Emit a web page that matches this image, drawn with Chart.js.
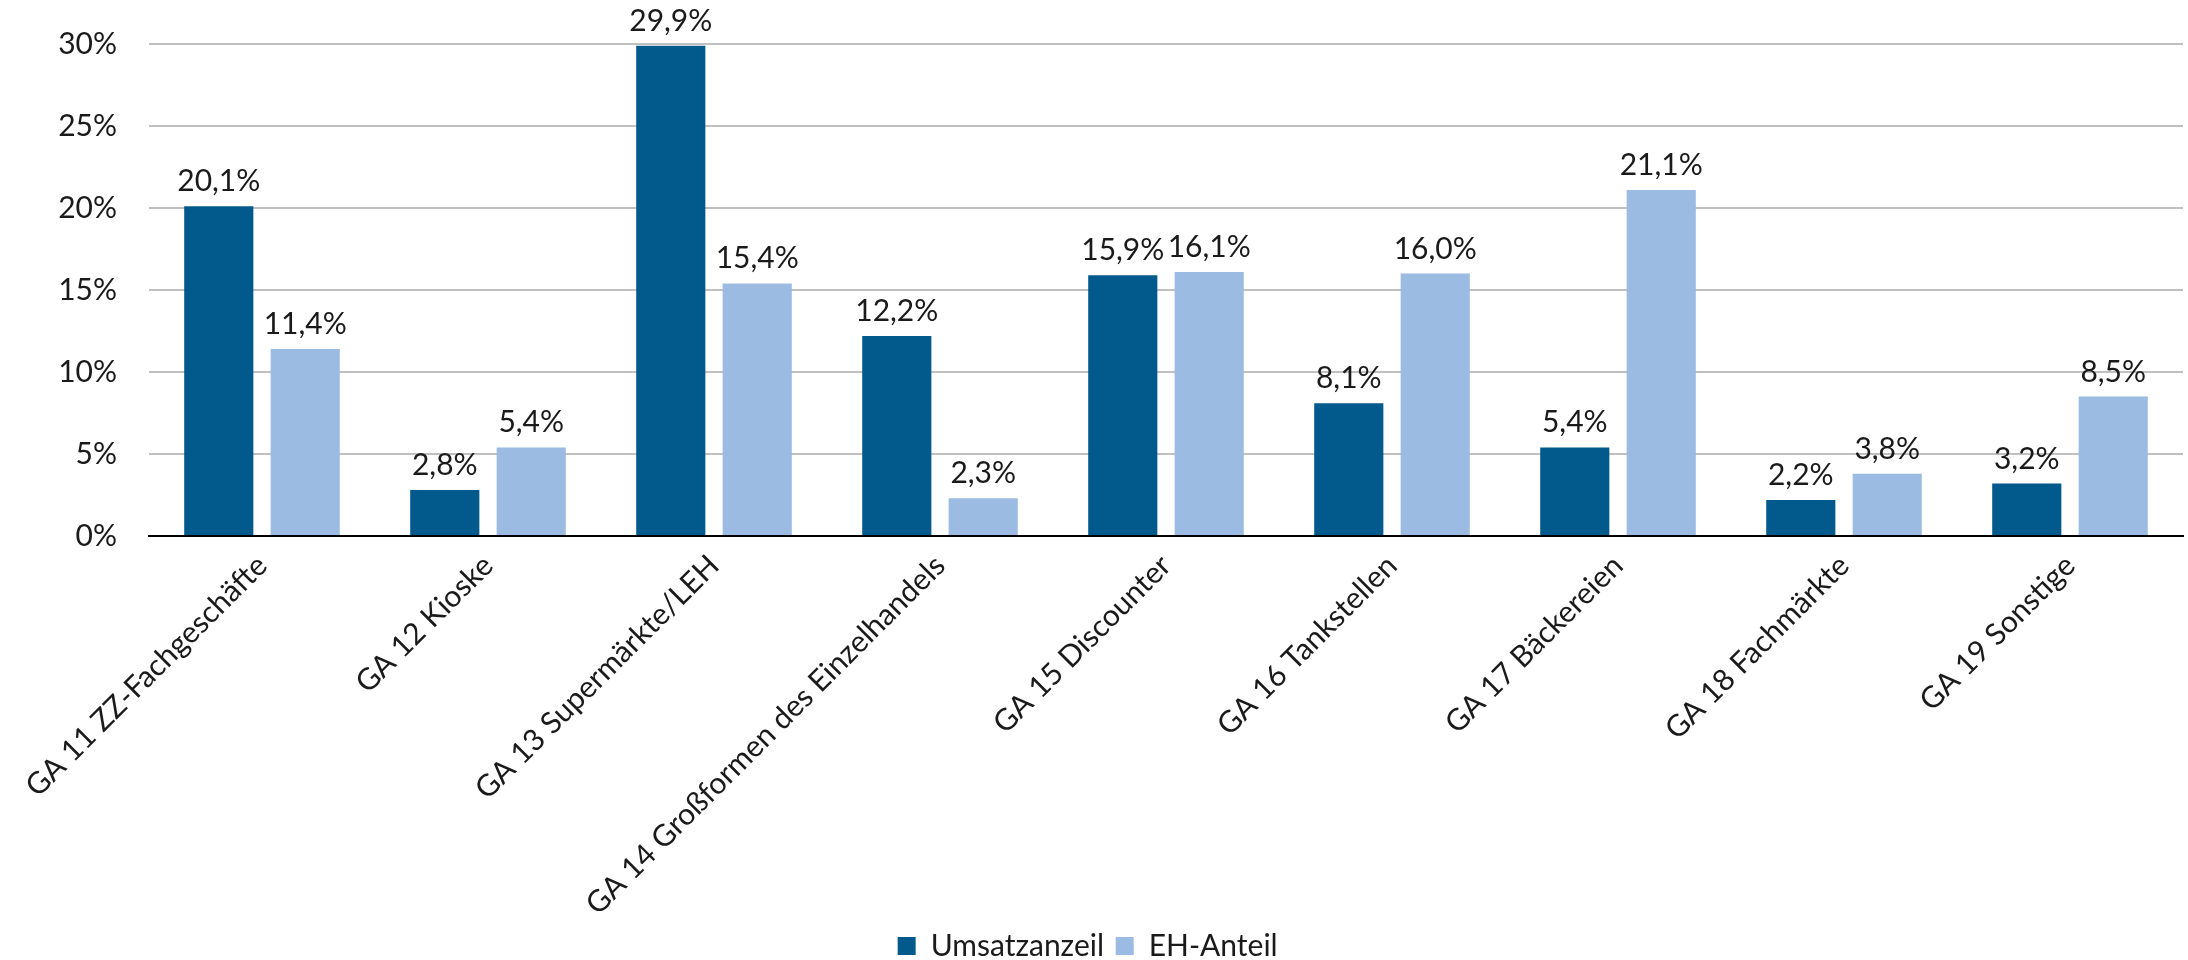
<!DOCTYPE html>
<html>
<head>
<meta charset="utf-8">
<script src="https://cdn.jsdelivr.net/npm/chart.js@4/dist/chart.umd.min.js"></script>
<style>
html,body{margin:0;padding:0;background:#fff;}
#wrap{width:2188px;height:960px;position:relative;}
</style>
</head>
<body>
<div id="wrap"><canvas id="c" width="2188" height="960"></canvas></div>
<script>
const categories = [
  "GA 11 ZZ-Fachgeschäfte",
  "GA 12 Kioske",
  "GA 13 Supermärkte/LEH",
  "GA 14 Großformen des Einzelhandels",
  "GA 15 Discounter",
  "GA 16 Tankstellen",
  "GA 17 Bäckereien",
  "GA 18 Fachmärkte",
  "GA 19 Sonstige"
];
const seriesNames = ["Umsatzanzeil", "EH-Anteil"];
const umsatzanteil = [20.1, 2.8, 29.9, 12.2, 15.9, 8.1, 5.4, 2.2, 3.2];
const ehAnteil = [11.4, 5.4, 15.4, 2.3, 16.1, 16.0, 21.1, 3.8, 8.5];
const yTicks = [0, 5, 10, 15, 20, 25, 30];

const FONT = "Lato";
const fmt = v => v.toFixed(1).replace('.', ',') + '%';

const valueLabels = {
  id: 'valueLabels',
  afterDatasetsDraw(chart) {
    const ctx = chart.ctx;
    ctx.save();
    ctx.font = '30px ' + FONT;
    ctx.fillStyle = '#1a1a1a';
    ctx.textAlign = 'center';
    ctx.textBaseline = 'alphabetic';
    chart.data.datasets.forEach((ds, di) => {
      const meta = chart.getDatasetMeta(di);
      meta.data.forEach((bar, i) => {
        ctx.fillText(fmt(ds.data[i]), bar.x, bar.y - 15);
      });
    });
    ctx.restore();
  }
};

new Chart(document.getElementById('c'), {
  type: 'bar',
  data: {
    labels: categories,
    datasets: [
      { label: seriesNames[0], data: umsatzanteil, backgroundColor: '#02598c' },
      { label: seriesNames[1], data: ehAnteil, backgroundColor: '#9bbbe3' }
    ]
  },
  options: {
    responsive: false,
    animation: false,
    devicePixelRatio: 1,
    categoryPercentage: 0.765,
    barPercentage: 0.80,
    layout: { autoPadding: false, padding: { top: 44, right: 5, left: 0, bottom: -11 } },
    plugins: {
      legend: {
        position: 'bottom',
        labels: {
          font: { family: FONT, size: 30 },
          color: '#1a1a1a',
          boxWidth: 18,
          boxHeight: 18,
          padding: 4,
          generateLabels(chart) {
            const items = Chart.defaults.plugins.legend.labels.generateLabels(chart);
            items.forEach(it => { it.text = it.text + ' '; });
            return items;
          }
        }
      },
      tooltip: { enabled: false }
    },
    scales: {
      x: {
        grid: { display: false, drawTicks: false },
        border: { display: true, color: '#000', width: 2 },
        ticks: {
          font: { family: FONT, size: 30 },
          color: '#1a1a1a',
          minRotation: 45,
          maxRotation: 45,
          autoSkip: false,
          padding: 12
        },
        afterFit(scale) { scale.height = 391; }
      },
      y: {
        min: 0,
        max: 30,
        afterBuildTicks(scale) { scale.ticks = yTicks.map(v => ({ value: v })); },
        grid: {
          color: c => (c.tick && c.tick.value === 0) ? '#000' : '#c0c0c0',
          lineWidth: 2,
          drawTicks: false
        },
        border: { display: false },
        ticks: {
          font: { family: FONT, size: 30 },
          color: '#1a1a1a',
          padding: 32,
          callback: v => v + '%'
        },
        afterFit(scale) { scale.width = 149; scale.paddingTop = 0; scale.paddingBottom = 0; }
      }
    }
  },
  plugins: [valueLabels]
});
</script>
</body>
</html>
